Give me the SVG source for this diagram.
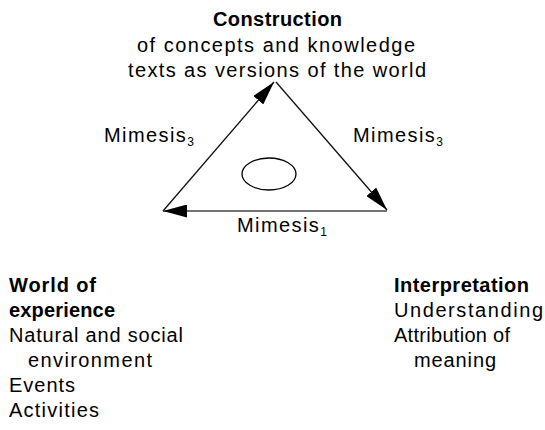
<svg xmlns="http://www.w3.org/2000/svg" width="545" height="430" viewBox="0 0 545 430">
<style>
text{font-family:"Liberation Sans",Arial,sans-serif;font-size:20px;fill:#000}
.b{font-weight:bold}
.m{letter-spacing:1.4px}
.sub{font-size:12px;letter-spacing:0}
.edge{stroke:#111;stroke-width:1.3;fill:none}
</style>
<defs>
<marker id="ah" viewBox="0 0 24 13" refX="24" refY="6.5" markerWidth="24" markerHeight="13" markerUnits="userSpaceOnUse" orient="auto">
<path d="M0,0 L24,6.5 L0,13 z" fill="#000"/>
</marker>
</defs>
<g id="connectors">
<line class="edge" x1="163" y1="211" x2="274" y2="82" marker-end="url(#ah)"/>
<line class="edge" x1="276" y1="82" x2="387" y2="210" marker-end="url(#ah)"/>
<line class="edge" x1="387" y1="211" x2="163" y2="211" style="stroke:#444;stroke-width:1.5" marker-end="url(#ah)"/>
</g>
<g id="center">
<ellipse cx="269" cy="174" rx="27" ry="16" fill="none" stroke="#000" stroke-width="1.3"/>
</g>
<g id="construction">
<text class="b" x="213" y="26" textLength="129" lengthAdjust="spacing">Construction</text>
<text x="137" y="52" textLength="278" lengthAdjust="spacing">of concepts and knowledge</text>
<text x="128" y="77" textLength="298" lengthAdjust="spacing">texts as versions of the world</text>
</g>
<g id="world">
<text class="b" x="9" y="292" textLength="87" lengthAdjust="spacing">World of</text>
<text class="b" x="9" y="317" textLength="106" lengthAdjust="spacing">experience</text>
<text x="9" y="342" textLength="174" lengthAdjust="spacing">Natural and social</text>
<text x="28" y="367" textLength="124" lengthAdjust="spacing">environment</text>
<text x="9" y="392" textLength="66" lengthAdjust="spacing">Events</text>
<text x="9" y="417" textLength="90" lengthAdjust="spacing">Activities</text>
</g>
<g id="interpretation">
<text class="b" x="394" y="292" textLength="135" lengthAdjust="spacing">Interpretation</text>
<text x="394" y="317" textLength="149" lengthAdjust="spacing">Understanding</text>
<text x="394" y="342" textLength="116" lengthAdjust="spacing">Attribution of</text>
<text x="414" y="367" textLength="82" lengthAdjust="spacing">meaning</text>
</g>
<g id="labels">
<text class="m" x="104" y="142">Mimesis<tspan class="sub" dy="4">3</tspan></text>
<text class="m" x="353" y="142">Mimesis<tspan class="sub" dy="4">3</tspan></text>
<text class="m" x="237" y="232">Mimesis<tspan class="sub" dy="4">1</tspan></text>
</g>
</svg>
